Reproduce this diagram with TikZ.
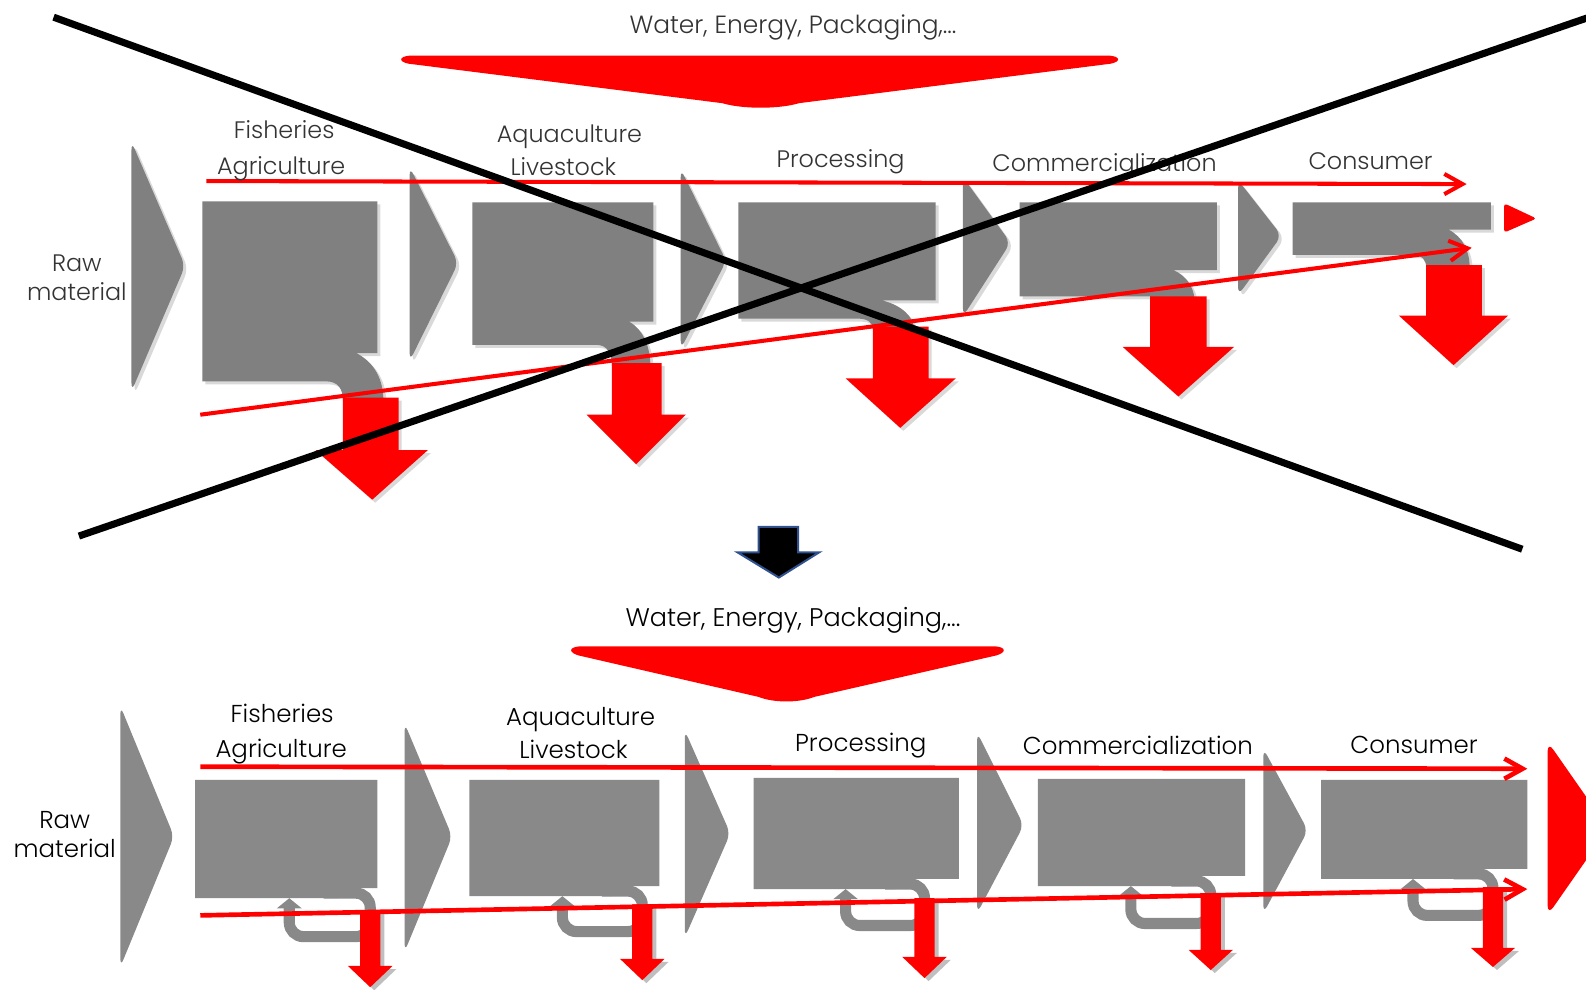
\documentclass[tikz,border=0pt]{standalone}
\usepackage{fontspec}
\setmainfont{Poppins Light}
\usetikzlibrary{arrows.meta,shadows}
\definecolor{upgray}{RGB}{128,128,128}
\definecolor{lowgray}{RGB}{137,137,137}
\definecolor{flowred}{RGB}{255,0,0}
\definecolor{edgeblue}{RGB}{47,82,143}

\begin{document}
\begin{tikzpicture}[x=0.5pt, y=-0.5pt,
  uplbl/.style={font=\fontsize{11.8}{13}\selectfont, text=black!80, anchor=base, inner sep=0pt},
  lowlbl/.style={font=\fontsize{12.1}{14}\selectfont, text=black, anchor=base, inner sep=0pt},
  upshade/.style={drop shadow={shadow xshift=1.5pt, shadow yshift=-1.5pt, opacity=.3}},
  upchev/.style={fill=upgray, rounded corners=4pt, upshade},
  upbox/.style={fill=upgray, upshade},
  uparrow/.style={fill=flowred, upshade},
  lowchev/.style={fill=lowgray, rounded corners=4pt},
  lowbox/.style={fill=lowgray},
  lowloop/.style={draw=lowgray, line width=5.5pt, rounded corners=7pt, -{Triangle[length=5pt,width=12pt]}},
  lowarrow/.style={fill=flowred, drop shadow={shadow xshift=2pt, shadow yshift=-1.5pt, opacity=.5}},
  redline/.style={flowred, line width=2pt, -{Straight Barb[length=9pt,width=10pt]}},
  crossline/.style={black, line width=3.5pt}]
\useasboundingbox (0,0) rectangle (1568,978);

% ---- old chain (crossed out) ----
\fill[upchev] (130,140) -- (183,263) -- (130,387) -- cycle;
\fill[upchev] (405,165) -- (453,260) -- (405,357) -- cycle;
\fill[upchev] (673,167) -- (718,258) -- (673,345) -- cycle;
\fill[upchev] (952,175) -- (999,240) -- (952,313) -- cycle;
\fill[upchev] (1224,178) -- (1267,233) -- (1224,292) -- cycle;
\fill[flowred, rounded corners=1.5pt] (1487,201) -- (1519,216) -- (1487,230) -- cycle;

\fill[upbox] (200,199) -- (373,199) -- (373,349) -- (352,349) .. controls (370,358) and (379,375) .. (379,396) -- (339,396) .. controls (339,384) and (334,377) .. (322,377) -- (200,377) -- cycle;
\fill[upbox] (467,200) -- (646,200) -- (646,318) -- (622,318) .. controls (636,326) and (643,343) .. (643,362) -- (605,362) .. controls (605,349) and (600,341) .. (590,341) -- (467,341) -- cycle;
\fill[upbox] (730,200) -- (925,200) -- (925,297) -- (872,297) .. controls (892,302) and (903,313) .. (904,326) -- (863,326) .. controls (863,319) and (858,315) .. (848,315) -- (730,315) -- cycle;
\fill[upbox] (1008,200) -- (1203,200) -- (1203,267) -- (1160,267) .. controls (1172,272) and (1180,283) .. (1181,296) -- (1137,296) -- (1137,293) -- (1008,293) -- cycle;
\fill[upbox] (1278,200) -- (1474,200) -- (1474,227) -- (1432,227) .. controls (1446,234) and (1453,248) .. (1453,265) -- (1410,265) .. controls (1410,257) and (1406,252) .. (1398,252) -- (1278,252) -- cycle;

\fill[uparrow] (339,393) -- (394,393) -- (394,445) -- (423,445) -- (368,494) -- (312,445) -- (339,445) -- cycle;
\fill[uparrow] (605,359) -- (654,359) -- (654,410) -- (678,410) -- (629,459) -- (580,410) -- (605,410) -- cycle;
\fill[uparrow] (863,323) -- (918,323) -- (918,374) -- (945,374) -- (890,423) -- (836,374) -- (863,374) -- cycle;
\fill[uparrow] (1137,293) -- (1193,293) -- (1193,343) -- (1220,343) -- (1165,392) -- (1110,343) -- (1137,343) -- cycle;
\fill[uparrow] (1410,262) -- (1465,262) -- (1465,312) -- (1491,312) -- (1437,361) -- (1383,312) -- (1410,312) -- cycle;

\coordinate (upinL) at (204,179);
\coordinate (upinR) at (1450,182);
\coordinate (upoutL) at (198,410);
\coordinate (upoutR) at (1455,245);
\draw[redline] (upinL) -- (upinR);
\draw[redline] (upoutL) -- (upoutR);

\fill[flowred] (405,55) -- (1097,55) .. controls (1108,56) and (1108,61) .. (1098,63) -- (790,102) .. controls (770,108) and (734,108) .. (714,102) -- (404,63) .. controls (394,61) and (394,56) .. (405,55) -- cycle;

\node[uplbl, font=\fontsize{12.3}{14}\selectfont] (upwater) at (784,33) {Water, Energy, Packaging,...};
\node[uplbl] (upraw) at (76,268) {Raw};
\node[uplbl] (upmat) at (76,297) {material};
\node[uplbl] (upfish) at (281,137) {Fisheries};
\node[uplbl] (upagri) at (278,173) {Agriculture};
\node[uplbl] (upaqua) at (563,141) {Aquaculture};
\node[uplbl] (uplive) at (557,174) {Livestock};
\node[uplbl] (upproc) at (831,166) {Processing};
\node[uplbl] (upcomm) at (1092,170) {Commercialization};
\node[uplbl] (upcons) at (1355,168) {Consumer};

% the big cross
\coordinate (xa1) at (53,17);
\coordinate (xa2) at (1505,543);
\coordinate (xb1) at (78,530);
\coordinate (xb2) at (1580,14);
\draw[crossline] (xa1) -- (xa2);
\draw[crossline] (xb1) -- (xb2);

% ---- step down ----
\draw[edgeblue, fill=black, line width=1pt] (750,521) -- (789,521) -- (789,546) -- (810,546) -- (770,571) -- (729,546) -- (750,546) -- cycle;

% ---- new chain ----
\fill[lowchev] (119,698) -- (172,827) -- (119,956) -- cycle;
\fill[lowchev] (400,715) -- (447,827) -- (400,941) -- cycle;
\fill[lowchev] (677,722) -- (722,824) -- (677,927) -- cycle;
\fill[lowchev] (966,724) -- (1012,816) -- (966,903) -- cycle;
\fill[lowchev] (1249,740) -- (1293,821) -- (1249,903) -- cycle;
\fill[flowred, rounded corners=5pt] (1530,733) -- (1590,819) -- (1530,905) -- cycle;

\fill[lowbox] (193,771) -- (373,771) -- (373,878) -- (335,878) -- (335,888) -- (193,888) -- cycle;
\fill[lowbox] (464,771) -- (652,771) -- (652,876) -- (605,876) -- (605,886) -- (464,886) -- cycle;
\fill[lowbox] (745,769) -- (948,769) -- (948,869) -- (885,869) -- (885,879) -- (745,879) -- cycle;
\fill[lowbox] (1026,770) -- (1231,770) -- (1231,866) -- (1168,866) -- (1168,876) -- (1026,876) -- cycle;
\fill[lowbox] (1306,771) -- (1510,771) -- (1510,859) -- (1447,859) -- (1447,869) -- (1306,869) -- cycle;

\draw[lowloop] (320,883) -- (366,883) -- (366,926) -- (286,926) -- (286,888);
\draw[lowloop] (595,881) -- (635,881) -- (635,921) -- (556,921) -- (556,886);
\draw[lowloop] (875,874) -- (914,874) -- (914,915) -- (836,915) -- (836,879);
\draw[lowloop] (1158,871) -- (1197,871) -- (1197,913) -- (1118,913) -- (1118,876);
\draw[lowloop] (1437,864) -- (1476,864) -- (1476,905) -- (1397,905) -- (1397,869);

\fill[lowarrow] (356,900) -- (376,900) -- (376,955) -- (388,955) -- (366,976) -- (344,955) -- (356,955) -- cycle;
\fill[lowarrow] (625,894) -- (645,894) -- (645,948) -- (657,948) -- (635,969) -- (613,948) -- (625,948) -- cycle;
\fill[lowarrow] (904,888) -- (924,888) -- (924,946) -- (936,946) -- (914,967) -- (892,946) -- (904,946) -- cycle;
\fill[lowarrow] (1187,883) -- (1207,883) -- (1207,939) -- (1219,939) -- (1197,959) -- (1175,939) -- (1187,939) -- cycle;
\fill[lowarrow] (1466,877) -- (1486,877) -- (1486,937) -- (1498,937) -- (1476,956) -- (1454,937) -- (1466,937) -- cycle;

\coordinate (lowinL) at (198,758);
\coordinate (lowinR) at (1510,760);
\coordinate (lowoutL) at (198,905);
\coordinate (lowoutR) at (1510,879);
\draw[redline, line width=2.3pt] (lowinL) -- (lowinR);
\draw[redline, line width=2.3pt] (lowoutL) -- (lowoutR);

\fill[flowred] (573,639) -- (984,639) .. controls (995,640) and (995,645) .. (985,648) -- (805,689) .. controls (790,695) and (765,695) .. (750,689) -- (572,648) .. controls (562,645) and (562,640) .. (573,639) -- cycle;

\node[lowlbl, font=\fontsize{12.6}{14}\selectfont] (lowwater) at (784,619) {Water, Energy, Packaging,...};
\node[lowlbl] (lowraw) at (64,819) {Raw};
\node[lowlbl] (lowmat) at (64,848) {material};
\node[lowlbl] (lowfish) at (279,714) {Fisheries};
\node[lowlbl] (lowagri) at (278,749) {Agriculture};
\node[lowlbl] (lowaqua) at (574,717) {Aquaculture};
\node[lowlbl] (lowlive) at (567,750) {Livestock};
\node[lowlbl] (lowproc) at (851,743) {Processing};
\node[lowlbl] (lowcomm) at (1125,746) {Commercialization};
\node[lowlbl] (lowcons) at (1398,745) {Consumer};
\end{tikzpicture}
\end{document}
